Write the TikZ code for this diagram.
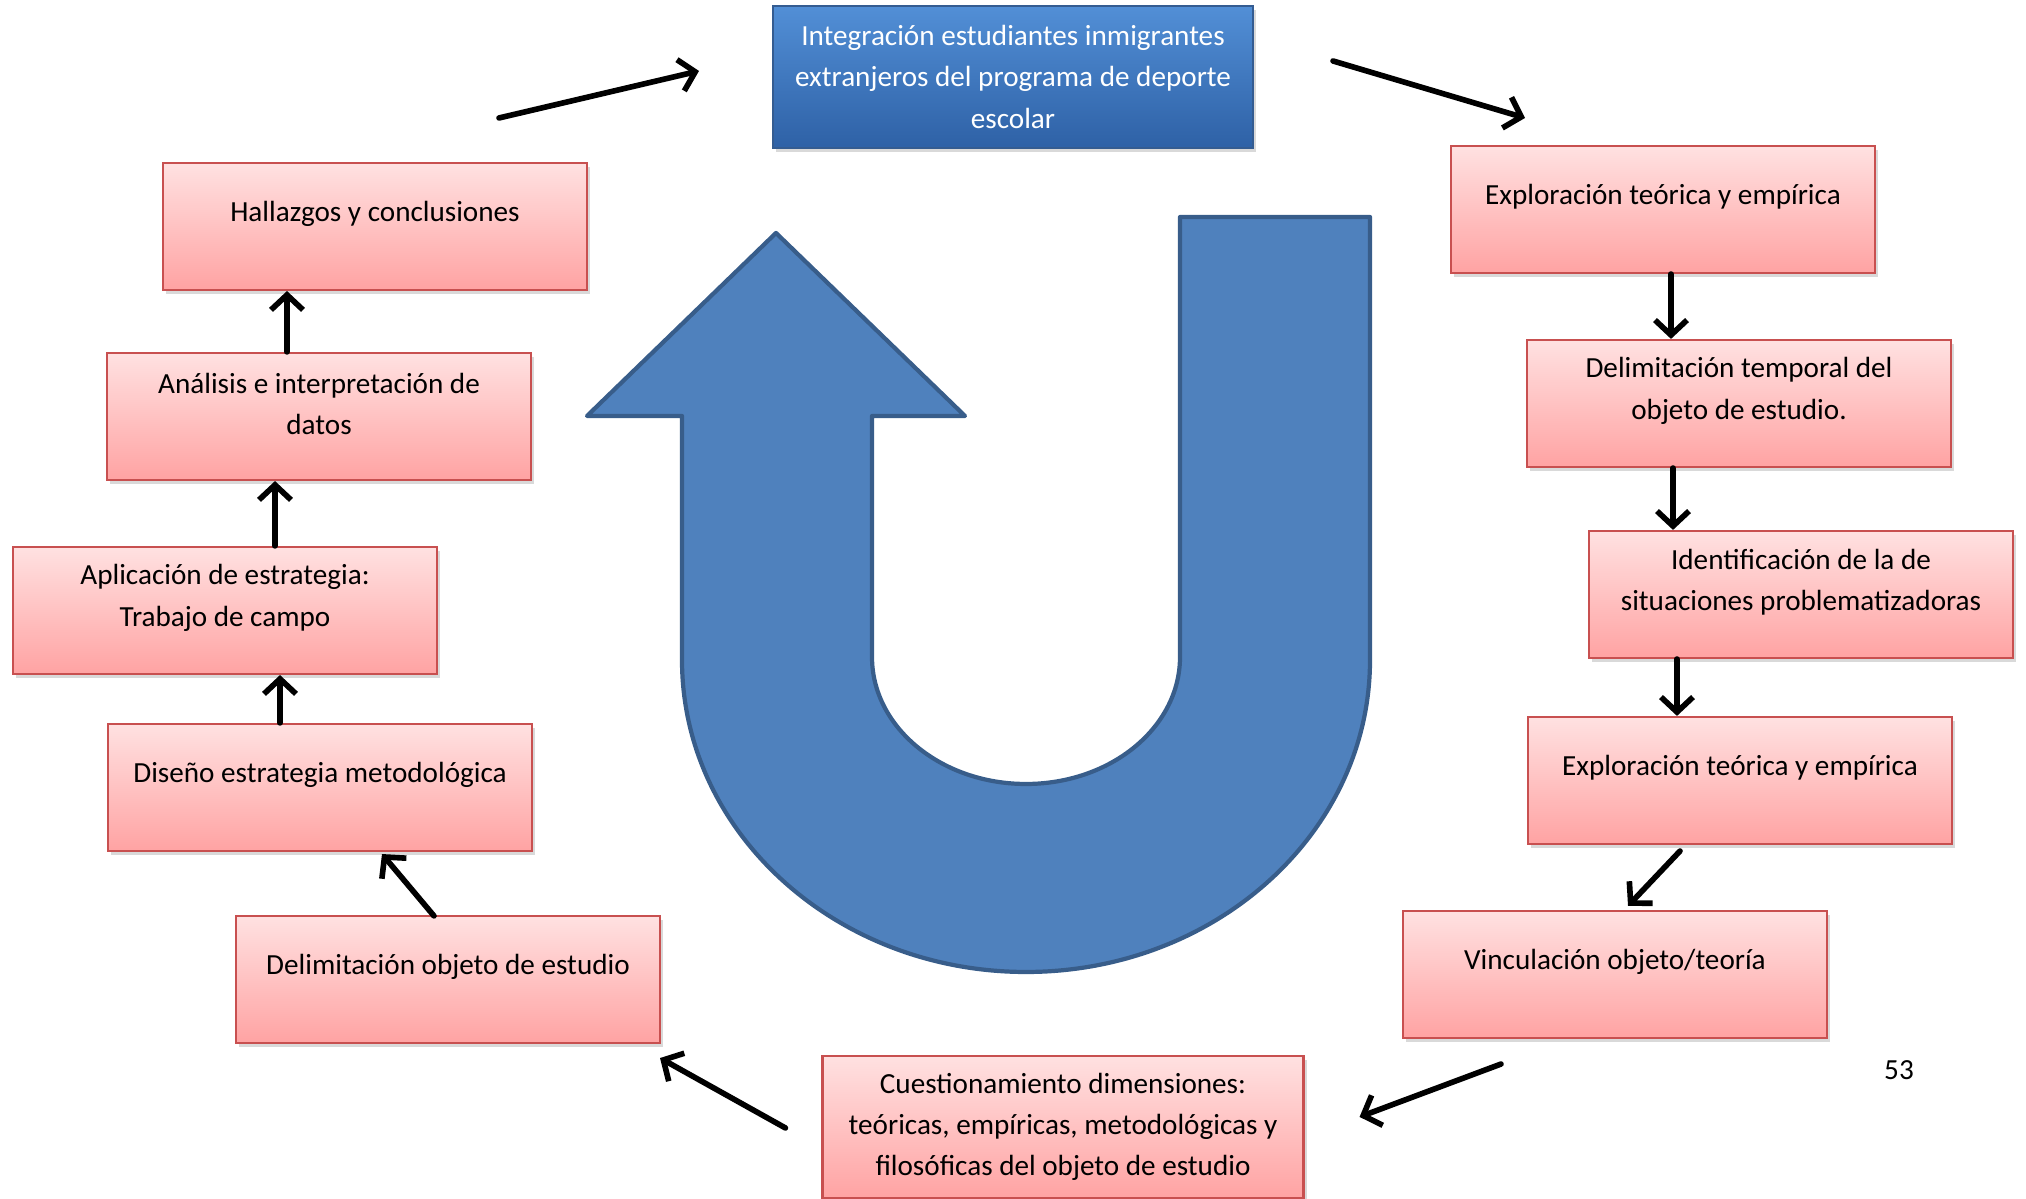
\documentclass[tikz,border=0pt]{standalone}
\usepackage{fontspec}
\setmainfont{Carlito}
\usetikzlibrary{arrows.meta,shadows}
\definecolor{ublue}{RGB}{79,129,189}
\definecolor{ubluedark}{RGB}{56,93,138}
\definecolor{pinktop}{RGB}{255,225,225}
\definecolor{pinkbot}{RGB}{255,163,163}
\definecolor{pinkline}{RGB}{200,80,80}
\definecolor{titletop}{RGB}{82,143,214}
\definecolor{titlebot}{RGB}{46,97,166}
\definecolor{titleline}{RGB}{52,92,145}
\tikzset{
  pinkbox/.style={draw=pinkline, line width=0.6pt, top color=pinktop, bottom color=pinkbot,
    minimum width=4.24cm, minimum height=1.27cm, inner sep=0pt,
    drop shadow={shadow xshift=0.03cm, shadow yshift=-0.04cm, opacity=0.3}},
  titlebox/.style={draw=titleline, line width=0.8pt, top color=titletop, bottom color=titlebot,
    minimum width=4.8cm, minimum height=1.42cm, text=white, align=center, inner sep=0pt,
    font=\fontsize{8.3}{11.7}\selectfont,
    drop shadow={shadow xshift=0.03cm, shadow yshift=-0.04cm, opacity=0.3}},
  boxtext/.style={align=center, inner sep=0pt, font=\fontsize{8.3}{11.7}\selectfont},
  arr/.style={-{Straight Barb[length=1.5mm,width=3.2mm]}, line width=1.6pt, line cap=round, line join=round}
}
\begin{document}
\begin{tikzpicture}
  \useasboundingbox (0,0) rectangle (20.26,11.99);
  %% big U-turn arrow
  \draw[fill=ublue, draw=ubluedark, line width=1.2pt, line join=round]
    (13.70,9.82) -- (13.70,5.39)
    arc[start angle=0, end angle=-180, x radius=3.44cm, y radius=3.12cm]
    -- (6.82,7.83) -- (5.87,7.83) -- (7.76,9.66) -- (9.65,7.83) -- (8.72,7.83) -- (8.72,5.42)
    arc[start angle=180, end angle=360, x radius=1.54cm, y radius=1.27cm]
    -- (11.80,9.82) -- cycle;
  %% title and bottom box
  \node[titlebox] (top) at (10.13,11.22) {Integración estudiantes inmigrantes\\extranjeros del programa de deporte\\escolar};
  \node[pinkbox, minimum width=4.81cm, minimum height=1.42cm, align=center,
        font=\fontsize{8.3}{11.7}\selectfont] (bot) at (10.63,0.72)
        {Cuestionamiento dimensiones:\\teóricas, empíricas, metodológicas y\\filosóficas del objeto de estudio};
  %% right column
  \node[pinkbox] (r1) at (16.63,9.895) {};
  \node[boxtext] (r1t) at ([yshift=-0.52cm]r1.north) {Exploración teórica y empírica};
  \node[pinkbox] (r2) at (17.39,7.955) {};
  \node[boxtext] (r2t) at ([yshift=-0.52cm]r2.north) {Delimitación temporal del\\objeto de estudio.};
  \node[pinkbox] (r3) at (18.01,6.045) {};
  \node[boxtext] (r3t) at ([yshift=-0.52cm]r3.north) {Identificación de la de\\situaciones problematizadoras};
  \node[pinkbox] (r4) at (17.40,4.185) {};
  \node[boxtext] (r4t) at ([yshift=-0.52cm]r4.north) {Exploración teórica y empírica};
  \node[pinkbox] (r5) at (16.15,2.245) {};
  \node[boxtext] (r5t) at ([yshift=-0.52cm]r5.north) {Vinculación objeto/teoría};
  %% left column
  \node[pinkbox] (l1) at (4.48,2.195) {};
  \node[boxtext] (l1t) at ([yshift=-0.52cm]l1.north) {Delimitación objeto de estudio};
  \node[pinkbox] (l2) at (3.20,4.115) {};
  \node[boxtext] (l2t) at ([yshift=-0.52cm]l2.north) {Diseño estrategia metodológica};
  \node[pinkbox] (l3) at (2.25,5.885) {};
  \node[boxtext] (l3t) at ([yshift=-0.52cm]l3.north) {Aplicación de estrategia:\\Trabajo de campo};
  \node[pinkbox] (l4) at (3.19,7.825) {};
  \node[boxtext] (l4t) at ([yshift=-0.52cm]l4.north) {Análisis e interpretación de\\datos};
  \node[pinkbox] (l5) at (3.75,9.725) {};
  \node[boxtext] (l5t) at ([yshift=-0.52cm]l5.north) {Hallazgos y conclusiones};
  %% page number
  \node[boxtext] (pn) at (18.99,1.29) {53};
  %% free ends of the top arrows
  \coordinate (tlstart) at (4.99,10.81);
  \coordinate (tlend) at (6.99,11.28);
  \coordinate (trstart) at (13.33,11.38);
  \coordinate (trend) at (15.25,10.81);
  %% arrows
  \draw[arr] (tlstart) -- (tlend);
  \draw[arr] (trstart) -- (trend);
  \draw[arr] ([xshift=0.08cm]r1.south) -- ([xshift=0.08cm]r1.south |- r2.north);
  \draw[arr] ([xshift=-0.66cm]r2.south) -- ([xshift=-0.66cm]r2.south |- r3.north);
  \draw[arr] ([xshift=-1.24cm]r3.south) -- ([xshift=-1.24cm]r3.south |- r4.north);
  \draw[arr] ([shift={(-0.60,-0.06)}]r4.south) -- ([shift={(0.13,0.04)}]r5.north);
  \draw[arr] ([shift={(-1.14,-0.25)}]r5.south) -- ([shift={(0.55,-0.62)}]bot.north east);
  \draw[arr] ([shift={(-0.36,-0.01)}]bot.west) -- ([shift={(-0.01,-0.14)}]l1.south east);
  \draw[arr] ([shift={(-0.14,-0.01)}]l1.north) -- ([shift={(0.62,-0.02)}]l2.south);
  \draw[arr] ([xshift=-0.40cm]l2.north) -- ([xshift=-0.40cm]l2.north |- l3.south);
  \draw[arr] ([xshift=0.50cm]l3.north) -- ([xshift=0.50cm]l3.north |- l4.south);
  \draw[arr] ([xshift=-0.32cm]l4.north) -- ([xshift=-0.32cm]l4.north |- l5.south);
\end{tikzpicture}
\end{document}
